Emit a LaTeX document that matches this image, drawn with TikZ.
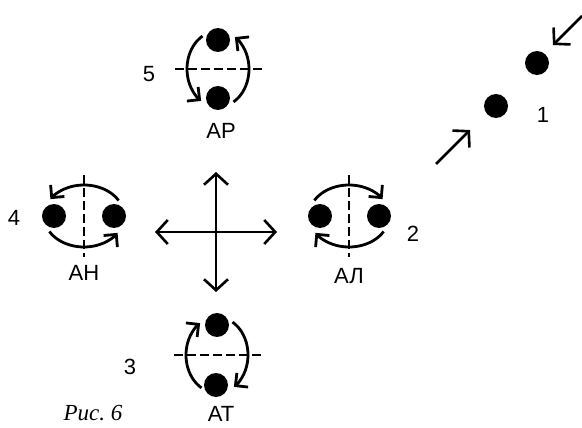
\documentclass[tikz,border=0pt]{standalone}
\usepackage{fontspec}
\setmainfont{Liberation Sans}
\newfontfamily\capfont{Liberation Serif}
\usepackage{tikz}
\usetikzlibrary{arrows.meta, positioning}

\begin{document}
\begin{tikzpicture}[x=1pt, y=-1pt,
                ball/.style={circle, fill=black, minimum size=24pt, inner sep=0pt},
                mirror/.style={line width=2.2pt, dash pattern=on 9pt off 4pt},
                turn/.style={->, line width=2.8pt, >={Straight Barb[length=9pt, width=18pt]}},
                arrow/.style={->, line width=2.6pt, >={Straight Barb[length=11pt, width=24pt]}},
                doublearrow/.style={<->, line width=2.6pt, >={Straight Barb[length=11pt, width=24pt]}},
                every node/.style={font=\fontsize{22}{26}\selectfont, inner sep=1pt}
            ]
            \useasboundingbox (0,0) rectangle (582,428);

            % Centres
            \coordinate (c5) at (218,69);
            \coordinate (c4) at (84,216);
            \coordinate (c2) at (349,216);
            \coordinate (c3) at (217,355);

            % Balls
            \node[ball] (top5) at (218,40) {};
            \node[ball] (bot5) at (218,98) {};
            \node[ball] (left4) at (54,216) {};
            \node[ball] (right4) at (114,216) {};
            \node[ball] (left2) at (320,216) {};
            \node[ball] (right2) at (379,216) {};
            \node[ball] (top3) at (217,325) {};
            \node[ball] (bot3) at (216,385) {};
            \node[ball] (up1) at (537,63) {};
            \node[ball] (low1) at (496,106) {};

            % Mirror lines
            \draw[mirror] ([xshift=-43pt]c5) -- ([xshift=44pt]c5);
            \draw[mirror] ([yshift=41pt]c4) -- ([yshift=-41pt]c4);
            \draw[mirror] ([yshift=41pt]c2) -- ([yshift=-41pt]c2);
            \draw[mirror] ([xshift=-43pt]c3) -- ([xshift=45pt]c3);

            % Rotations
            \draw[turn] (c5) ++(120:31pt and 38pt) arc[start angle=120, end angle=237, x radius=31pt, y radius=38pt];
            \draw[turn] (c5) ++(-60:31pt and 38pt) arc[start angle=-60, end angle=57, x radius=31pt, y radius=38pt];
            \draw[turn] (c4) ++(30:40pt and 31pt) arc[start angle=30, end angle=147, x radius=40pt, y radius=31pt];
            \draw[turn] (c4) ++(210:40pt and 31pt) arc[start angle=210, end angle=327, x radius=40pt, y radius=31pt];
            \draw[turn] (c2) ++(150:40pt and 31pt) arc[start angle=150, end angle=33, x radius=40pt, y radius=31pt];
            \draw[turn] (c2) ++(330:40pt and 31pt) arc[start angle=330, end angle=213, x radius=40pt, y radius=31pt];
            \draw[turn] (c3) ++(240:31pt and 38pt) arc[start angle=240, end angle=123, x radius=31pt, y radius=38pt];
            \draw[turn] (c3) ++(60:31pt and 38pt) arc[start angle=60, end angle=-57, x radius=31pt, y radius=38pt];

            % Cross
            \coordinate (north) at (216,172);
            \coordinate (south) at (216,292);
            \coordinate (west) at (155,232);
            \coordinate (east) at (277,232);
            \draw[doublearrow] (north) -- (south);
            \draw[doublearrow] (west) -- (east);

            % Collision
            \coordinate (from1) at (436,164);
            \coordinate (to1) at (470,130);
            \coordinate (from2) at (582,16);
            \coordinate (to2) at (553,45);
            \draw[arrow] (from1) -- (to1);
            \draw[arrow] (from2) -- (to2);

            % Labels
            \node (n5) at (149,74) {5};
            \node (ar) at (221,131) {АР};
            \node (n4) at (14,218) {4};
            \node (ah) at (84,273) {АН};
            \node (n2) at (413,234) {2};
            \node (al) at (349,276) {АЛ};
            \node (n3) at (130,367) {3};
            \node (at) at (221,414) {АТ};
            \node (n1) at (543,115) {1};
            \node (fig) at (93,413) {\capfont\fontsize{23}{26}\selectfont\itshape Рис.~6};
            \end{tikzpicture}
\end{document}
